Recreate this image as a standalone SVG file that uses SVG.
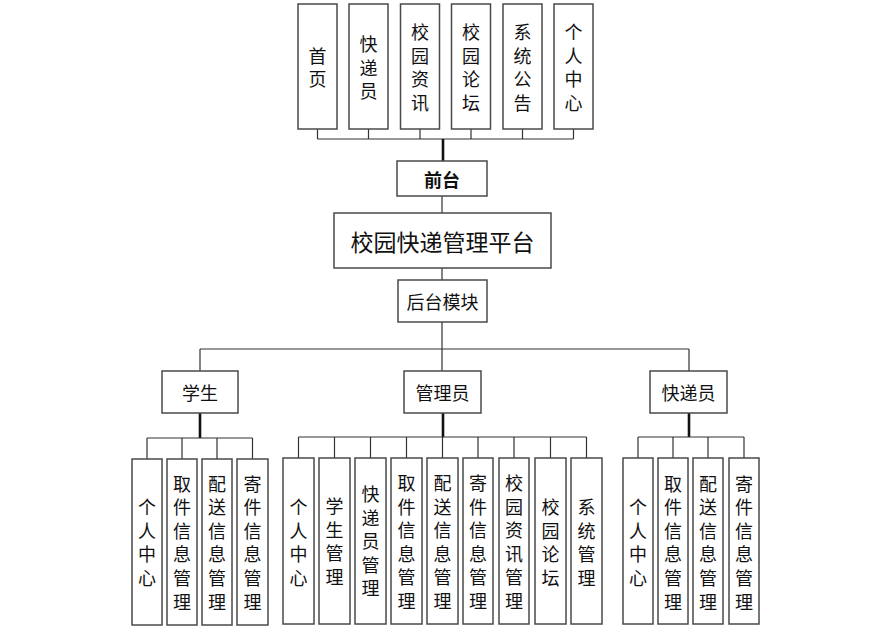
<svg xmlns="http://www.w3.org/2000/svg" width="874" height="629" viewBox="0 0 874 629">
<style>
.box{fill:#fff;stroke:#4a4a4a;stroke-width:1.5}
.t{font-family:"Noto Sans CJK SC","Noto Sans",sans-serif;font-size:18px;fill:#111;text-anchor:middle;dominant-baseline:central}
.ln{stroke:#333;stroke-width:1.2;fill:none}
.th{stroke:#111;stroke-width:2.6;fill:none}
</style>
<rect width="874" height="629" fill="#fff"/>
<g id="connectors">
<path class="ln" d="M317.5 129V139M368.5 129V139M420 129V139M471 129V139M522.5 129V139M573.5 129V139M317.5 139H573.5"/>
<path class="th" d="M443 139V161"/>
<path class="ln" d="M442 196V213M442 268V280M442 322V349M200 349H689M200 349V371M442 349V371M689 349V371"/>
<path class="th" d="M200 413V438M443 413V437M689 413V437"/>
<path class="ln" d="M147 438H252.5M147 438V459M182 438V459M217 438V459M252.5 438V459"/>
<path class="ln" d="M298.5 437H586.5M298.5 437V458M334.5 437V458M370.5 437V458M406.5 437V458M442.5 437V458M478 437V458M514 437V458M550.5 437V458M586.5 437V458"/>
<path class="ln" d="M638 437H744M638 437V458M673 437V458M708 437V458M744 437V458"/>
</g>
<g id="top1"><rect class="box" x="298" y="4" width="39" height="125"/><text class="t"><tspan x="317.5" y="54.8">首</tspan><tspan x="317.5" y="78.2">页</tspan></text></g>
<g id="top2"><rect class="box" x="349" y="4" width="39" height="125"/><text class="t"><tspan x="368.5" y="43.1">快</tspan><tspan x="368.5" y="66.5">递</tspan><tspan x="368.5" y="89.9">员</tspan></text></g>
<g id="top3"><rect class="box" x="400.5" y="4" width="39" height="125"/><text class="t"><tspan x="420" y="31.4">校</tspan><tspan x="420" y="54.8">园</tspan><tspan x="420" y="78.2">资</tspan><tspan x="420" y="101.6">讯</tspan></text></g>
<g id="top4"><rect class="box" x="451.5" y="4" width="39" height="125"/><text class="t"><tspan x="471" y="31.4">校</tspan><tspan x="471" y="54.8">园</tspan><tspan x="471" y="78.2">论</tspan><tspan x="471" y="101.6">坛</tspan></text></g>
<g id="top5"><rect class="box" x="503" y="4" width="39" height="125"/><text class="t"><tspan x="522.5" y="31.4">系</tspan><tspan x="522.5" y="54.8">统</tspan><tspan x="522.5" y="78.2">公</tspan><tspan x="522.5" y="101.6">告</tspan></text></g>
<g id="top6"><rect class="box" x="554" y="4" width="39" height="125"/><text class="t"><tspan x="573.5" y="31.4">个</tspan><tspan x="573.5" y="54.8">人</tspan><tspan x="573.5" y="78.2">中</tspan><tspan x="573.5" y="101.6">心</tspan></text></g>
<g id="qiantai"><rect class="box" x="397" y="161" width="90" height="35"/><text class="t" x="442" y="178.5" font-weight="bold">前台</text></g>
<g id="platform"><rect class="box" x="334" y="213" width="217" height="55"/><text class="t" x="442.5" y="241" style="font-size:23px">校园快递管理平台</text></g>
<g id="houtai"><rect class="box" x="398" y="280" width="89" height="42"/><text class="t" x="442.5" y="301">后台模块</text></g>
<g id="student"><rect class="box" x="162" y="371" width="76" height="42"/><text class="t" x="200" y="392">学生</text></g>
<g id="admin"><rect class="box" x="404" y="371" width="77" height="42"/><text class="t" x="442.5" y="392">管理员</text></g>
<g id="courier"><rect class="box" x="650" y="371" width="77" height="42"/><text class="t" x="688.5" y="392">快递员</text></g>
<g id="s1"><rect class="box" x="132" y="459" width="30" height="166"/><text class="t"><tspan x="147" y="506.1">个</tspan><tspan x="147" y="529.7">人</tspan><tspan x="147" y="553.3">中</tspan><tspan x="147" y="576.9">心</tspan></text></g>
<g id="s2"><rect class="box" x="167" y="459" width="30" height="166"/><text class="t"><tspan x="182" y="482.5">取</tspan><tspan x="182" y="506.1">件</tspan><tspan x="182" y="529.7">信</tspan><tspan x="182" y="553.3">息</tspan><tspan x="182" y="576.9">管</tspan><tspan x="182" y="600.5">理</tspan></text></g>
<g id="s3"><rect class="box" x="202" y="459" width="30" height="166"/><text class="t"><tspan x="217" y="482.5">配</tspan><tspan x="217" y="506.1">送</tspan><tspan x="217" y="529.7">信</tspan><tspan x="217" y="553.3">息</tspan><tspan x="217" y="576.9">管</tspan><tspan x="217" y="600.5">理</tspan></text></g>
<g id="s4"><rect class="box" x="237" y="459" width="31" height="166"/><text class="t"><tspan x="252.5" y="482.5">寄</tspan><tspan x="252.5" y="506.1">件</tspan><tspan x="252.5" y="529.7">信</tspan><tspan x="252.5" y="553.3">息</tspan><tspan x="252.5" y="576.9">管</tspan><tspan x="252.5" y="600.5">理</tspan></text></g>
<g id="a1"><rect class="box" x="283" y="458" width="31" height="166"/><text class="t"><tspan x="298.5" y="506.1">个</tspan><tspan x="298.5" y="529.7">人</tspan><tspan x="298.5" y="553.3">中</tspan><tspan x="298.5" y="576.9">心</tspan></text></g>
<g id="a2"><rect class="box" x="319" y="458" width="31" height="166"/><text class="t"><tspan x="334.5" y="505">学</tspan><tspan x="334.5" y="528.6">生</tspan><tspan x="334.5" y="552.2">管</tspan><tspan x="334.5" y="575.8">理</tspan></text></g>
<g id="a3"><rect class="box" x="355" y="458" width="31" height="166"/><text class="t"><tspan x="370.5" y="493">快</tspan><tspan x="370.5" y="516.6">递</tspan><tspan x="370.5" y="540.2">员</tspan><tspan x="370.5" y="563.8">管</tspan><tspan x="370.5" y="587.4">理</tspan></text></g>
<g id="a4"><rect class="box" x="391" y="458" width="31" height="166"/><text class="t"><tspan x="406.5" y="482">取</tspan><tspan x="406.5" y="505.6">件</tspan><tspan x="406.5" y="529.2">信</tspan><tspan x="406.5" y="552.8">息</tspan><tspan x="406.5" y="576.4">管</tspan><tspan x="406.5" y="600">理</tspan></text></g>
<g id="a5"><rect class="box" x="427" y="458" width="31" height="166"/><text class="t"><tspan x="442.5" y="482">配</tspan><tspan x="442.5" y="505.6">送</tspan><tspan x="442.5" y="529.2">信</tspan><tspan x="442.5" y="552.8">息</tspan><tspan x="442.5" y="576.4">管</tspan><tspan x="442.5" y="600">理</tspan></text></g>
<g id="a6"><rect class="box" x="463" y="458" width="30" height="166"/><text class="t"><tspan x="478" y="482">寄</tspan><tspan x="478" y="505.6">件</tspan><tspan x="478" y="529.2">信</tspan><tspan x="478" y="552.8">息</tspan><tspan x="478" y="576.4">管</tspan><tspan x="478" y="600">理</tspan></text></g>
<g id="a7"><rect class="box" x="499" y="458" width="30" height="166"/><text class="t"><tspan x="514" y="482">校</tspan><tspan x="514" y="505.6">园</tspan><tspan x="514" y="529.2">资</tspan><tspan x="514" y="552.8">讯</tspan><tspan x="514" y="576.4">管</tspan><tspan x="514" y="600">理</tspan></text></g>
<g id="a8"><rect class="box" x="535" y="458" width="31" height="166"/><text class="t"><tspan x="550.5" y="506.1">校</tspan><tspan x="550.5" y="529.7">园</tspan><tspan x="550.5" y="553.3">论</tspan><tspan x="550.5" y="576.9">坛</tspan></text></g>
<g id="a9"><rect class="box" x="571" y="458" width="31" height="166"/><text class="t"><tspan x="586.5" y="506.1">系</tspan><tspan x="586.5" y="529.7">统</tspan><tspan x="586.5" y="553.3">管</tspan><tspan x="586.5" y="576.9">理</tspan></text></g>
<g id="c1"><rect class="box" x="623" y="458" width="30" height="166"/><text class="t"><tspan x="638" y="506.1">个</tspan><tspan x="638" y="529.7">人</tspan><tspan x="638" y="553.3">中</tspan><tspan x="638" y="576.9">心</tspan></text></g>
<g id="c2"><rect class="box" x="658" y="458" width="30" height="166"/><text class="t"><tspan x="673" y="482.5">取</tspan><tspan x="673" y="506.1">件</tspan><tspan x="673" y="529.7">信</tspan><tspan x="673" y="553.3">息</tspan><tspan x="673" y="576.9">管</tspan><tspan x="673" y="600.5">理</tspan></text></g>
<g id="c3"><rect class="box" x="693" y="458" width="30" height="166"/><text class="t"><tspan x="708" y="482.5">配</tspan><tspan x="708" y="506.1">送</tspan><tspan x="708" y="529.7">信</tspan><tspan x="708" y="553.3">息</tspan><tspan x="708" y="576.9">管</tspan><tspan x="708" y="600.5">理</tspan></text></g>
<g id="c4"><rect class="box" x="729" y="458" width="30" height="166"/><text class="t"><tspan x="744" y="482.5">寄</tspan><tspan x="744" y="506.1">件</tspan><tspan x="744" y="529.7">信</tspan><tspan x="744" y="553.3">息</tspan><tspan x="744" y="576.9">管</tspan><tspan x="744" y="600.5">理</tspan></text></g>
</svg>
